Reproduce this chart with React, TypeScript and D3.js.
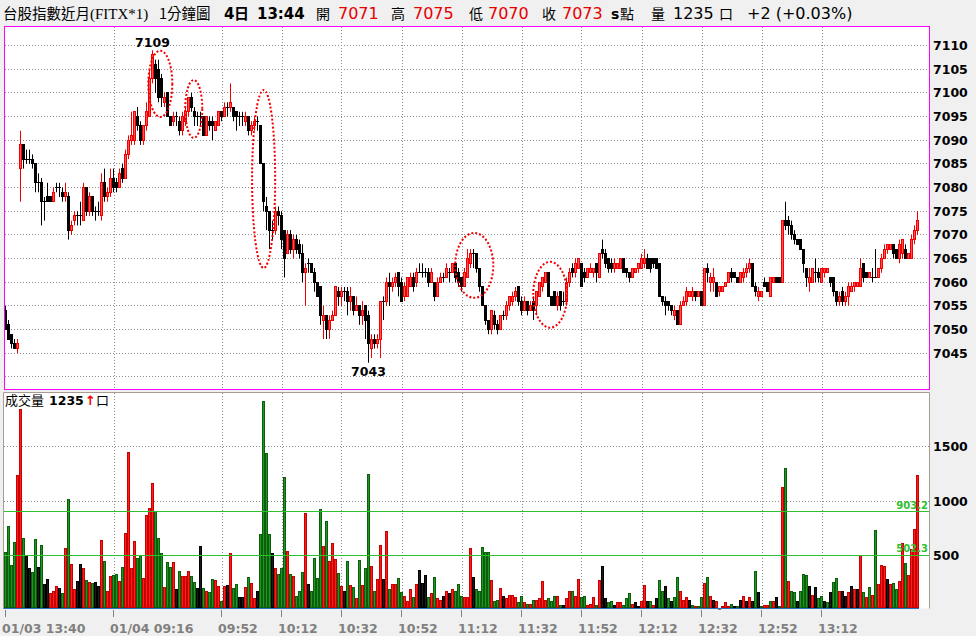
import React from "react";
import * as d3 from "d3";

// [open, high, low, close] per 1-minute bar
const candles: [number, number, number, number][] = [
[7054,7055,7050,7050],[7051,7052,7048,7048],[7049,7049,7046,7047],[7047,7048,7046,7046],[7046,7048,7045,7047],
[7084,7092,7077,7089],[7089,7089,7084,7086],[7086,7088,7085,7086],[7086,7088,7085,7086],[7086,7087,7084,7085],
[7085,7085,7079,7081],[7081,7083,7079,7081],[7081,7082,7072,7077],[7077,7078,7073,7077],[7078,7081,7077,7077],
[7078,7078,7077,7077],[7077,7080,7077,7079],[7080,7081,7079,7080],[7080,7081,7078,7080],[7079,7080,7077,7078],
[7078,7081,7077,7079],[7078,7079,7069,7071],[7071,7073,7070,7072],[7073,7075,7072,7074],[7074,7075,7072,7074],
[7074,7077,7072,7074],[7073,7081,7073,7080],[7080,7080,7074,7075],[7075,7079,7074,7078],[7078,7078,7074,7075],
[7075,7076,7073,7075],[7075,7077,7074,7075],[7074,7083,7073,7081],[7081,7084,7077,7078],[7078,7080,7077,7079],
[7079,7084,7078,7082],[7082,7084,7079,7080],[7081,7082,7079,7080],[7080,7084,7080,7083],[7084,7085,7081,7082],
[7082,7088,7082,7087],[7087,7091,7086,7090],[7090,7096,7089,7091],[7090,7096,7089,7096],[7095,7097,7092,7093],
[7093,7094,7089,7090],[7090,7093,7089,7093],[7093,7098,7092,7096],[7095,7105,7095,7103],[7103,7109,7102,7108],
[7106,7107,7100,7103],[7105,7107,7098,7099],[7103,7104,7097,7099],[7098,7100,7097,7099],[7100,7100,7095,7095],
[7095,7095,7093,7093],[7094,7096,7093,7095],[7095,7096,7093,7095],[7094,7095,7091,7092],[7092,7096,7091,7095],
[7094,7097,7093,7096],[7096,7099,7095,7099],[7099,7100,7096,7097],[7096,7097,7093,7095],[7095,7096,7093,7095],
[7095,7096,7093,7095],[7095,7095,7091,7091],[7091,7095,7091,7095],[7094,7095,7092,7093],[7094,7095,7090,7093],
[7092,7094,7092,7094],[7093,7096,7093,7096],[7096,7096,7094,7095],[7095,7098,7095,7097],[7097,7098,7095,7097],
[7097,7102,7096,7098],[7097,7097,7094,7095],[7096,7096,7092,7095],[7095,7096,7093,7095],[7095,7096,7093,7095],
[7094,7096,7093,7095],[7095,7095,7091,7092],[7092,7094,7091,7093],[7093,7095,7092,7094],[7094,7095,7092,7094],
[7093,7093,7085,7085],[7085,7085,7075,7077],[7076,7078,7071,7075],[7075,7075,7067,7071],[7071,7073,7069,7071],
[7071,7076,7070,7075],[7075,7076,7072,7074],[7074,7075,7067,7069],[7071,7071,7061,7065],[7066,7071,7066,7070],
[7070,7071,7066,7067],[7067,7070,7065,7069],[7069,7070,7066,7067],[7068,7069,7065,7066],[7066,7068,7060,7062],
[7062,7064,7055,7063],[7064,7065,7062,7064],[7064,7064,7062,7062],[7062,7063,7058,7060],[7060,7060,7057,7057],
[7059,7059,7051,7053],[7052,7055,7048,7053],[7053,7053,7048,7050],[7050,7053,7048,7052],[7052,7054,7052,7053],
[7053,7059,7053,7059],[7058,7059,7055,7057],[7057,7059,7055,7058],[7058,7059,7056,7058],[7058,7059,7053,7056],
[7056,7059,7054,7057],[7057,7057,7053,7054],[7054,7057,7054,7055],[7055,7055,7051,7053],[7053,7056,7051,7054],
[7055,7055,7048,7052],[7053,7054,7043,7047],[7046,7049,7044,7048],[7048,7049,7046,7047],[7047,7049,7046,7048],
[7048,7056,7044,7056],[7056,7057,7052,7056],[7056,7061,7055,7060],[7060,7062,7055,7059],[7059,7061,7058,7060],
[7060,7062,7059,7061],[7062,7062,7057,7059],[7060,7061,7056,7056],[7057,7060,7056,7059],[7057,7061,7057,7061],
[7059,7062,7059,7061],[7061,7062,7058,7059],[7060,7063,7059,7062],[7062,7064,7062,7062],[7062,7064,7061,7062],
[7062,7063,7061,7062],[7062,7063,7059,7060],[7060,7063,7060,7062],[7060,7060,7056,7057],[7057,7061,7057,7060],
[7060,7062,7060,7061],[7061,7062,7060,7061],[7061,7064,7061,7063],[7062,7063,7060,7062],[7062,7064,7062,7064],
[7064,7064,7060,7061],[7062,7063,7059,7060],[7061,7061,7058,7059],[7059,7063,7059,7062],[7061,7067,7061,7065],
[7064,7067,7063,7066],[7066,7067,7063,7066],[7066,7066,7062,7063],[7063,7063,7058,7059],[7059,7059,7055,7055],
[7055,7055,7051,7052],[7052,7052,7049,7050],[7050,7054,7049,7054],[7053,7054,7050,7051],[7051,7052,7049,7050],
[7050,7053,7050,7053],[7053,7054,7052,7053],[7053,7056,7052,7055],[7055,7057,7054,7057],[7056,7058,7055,7057],
[7057,7059,7056,7058],[7059,7059,7055,7056],[7056,7057,7053,7054],[7054,7057,7054,7056],[7056,7056,7053,7054],
[7054,7056,7054,7055],[7056,7057,7052,7054],[7055,7058,7053,7058],[7057,7060,7057,7060],[7059,7061,7058,7061],
[7060,7062,7060,7062],[7062,7062,7057,7057],[7057,7057,7055,7055],[7058,7058,7055,7055],[7055,7058,7054,7057],
[7058,7058,7054,7055],[7056,7058,7055,7056],[7056,7061,7055,7060],[7060,7063,7059,7062],[7063,7064,7061,7062],
[7062,7065,7061,7064],[7063,7065,7063,7065],[7064,7064,7059,7059],[7062,7063,7060,7061],[7061,7063,7061,7063],
[7062,7064,7062,7063],[7062,7063,7061,7063],[7064,7064,7060,7062],
[7061,7066,7061,7066],[7067,7069,7065,7066],[7066,7067,7063,7064],[7065,7065,7062,7063],[7064,7065,7062,7063],
[7063,7065,7062,7064],[7063,7064,7063,7064],[7063,7065,7063,7065],[7065,7065,7062,7062],[7063,7063,7061,7062],
[7062,7062,7060,7061],[7061,7063,7061,7063],[7062,7063,7062,7063],[7063,7064,7062,7064],[7063,7066,7063,7065],
[7064,7067,7063,7065],[7065,7066,7063,7063],[7065,7065,7062,7063],[7065,7065,7063,7064],[7065,7065,7063,7063],
[7064,7064,7057,7057],[7057,7057,7055,7056],[7056,7057,7053,7055],[7056,7056,7054,7055],[7055,7055,7053,7054],
[7053,7055,7052,7054],[7054,7054,7051,7051],[7051,7056,7051,7055],[7055,7057,7055,7056],[7056,7059,7055,7058],
[7057,7058,7057,7058],[7057,7059,7056,7058],[7058,7058,7056,7057],[7057,7058,7057,7058],[7058,7058,7055,7055],
[7055,7063,7055,7063],[7063,7064,7060,7062],[7060,7062,7058,7061],[7060,7063,7058,7061],[7060,7060,7057,7057],
[7058,7059,7057,7059],[7058,7059,7058,7059],[7059,7060,7059,7060],[7060,7062,7060,7062],[7062,7063,7060,7061],
[7062,7062,7061,7061],[7061,7061,7060,7060],[7060,7062,7060,7062],[7061,7063,7060,7062],[7062,7064,7061,7063],
[7063,7065,7062,7064],[7064,7064,7059,7059],[7059,7060,7057,7058],[7057,7059,7056,7058],[7057,7058,7057,7058],
[7060,7061,7059,7059],[7060,7060,7058,7058],[7057,7061,7057,7061],[7060,7061,7060,7061],[7061,7061,7060,7060],
[7061,7061,7060,7060],[7060,7073,7060,7073],[7073,7077,7071,7072],[7073,7074,7070,7072],[7072,7073,7069,7070],
[7070,7071,7068,7069],[7069,7069,7068,7068],[7069,7069,7067,7067],[7067,7067,7062,7064],[7063,7063,7059,7061],
[7060,7063,7058,7061],[7060,7063,7060,7063],[7062,7065,7060,7062],[7062,7063,7060,7061],[7060,7063,7060,7063],
[7062,7063,7061,7063],[7062,7063,7062,7063],[7061,7061,7059,7060],[7061,7061,7057,7058],[7058,7058,7055,7056],
[7056,7058,7055,7057],[7058,7059,7055,7056],[7056,7058,7055,7057],[7057,7060,7055,7059],[7058,7060,7058,7059],
[7059,7060,7058,7060],[7059,7060,7059,7060],[7059,7065,7059,7063],[7064,7064,7060,7061],[7062,7062,7061,7061],
[7061,7062,7061,7062],[7061,7063,7060,7061],[7061,7067,7061,7061],[7061,7063,7061,7063],[7063,7066,7062,7065],
[7065,7068,7065,7067],[7067,7068,7066,7068],[7067,7068,7067,7068],[7068,7068,7065,7066],[7067,7067,7065,7065],
[7065,7069,7064,7068],[7066,7069,7065,7069],[7067,7068,7065,7065],[7065,7066,7065,7066],[7065,7070,7065,7069],
[7069,7072,7068,7071],[7071,7075,7070,7073],
];

const volumes: number[] = [
523,763,403,616,1235,1842,653,496,376,339,
644,385,588,228,274,148,163,209,191,145,
560,1013,413,182,256,413,376,265,246,237,
246,209,634,440,163,302,317,323,256,385,
699,1448,376,625,468,496,283,865,930,1161,
902,653,514,200,431,385,431,182,348,302,
302,348,302,246,191,579,191,172,154,274,
265,209,71,209,219,514,191,228,108,108,
200,293,237,99,172,690,1919,1438,690,514,
376,320,376,1217,533,320,302,126,172,339,
884,228,172,468,283,921,579,810,440,607,
459,330,209,172,440,219,200,99,450,219,
376,1244,394,172,274,588,274,717,182,228,
228,283,154,117,71,182,108,228,357,237,
311,108,145,293,99,89,117,163,145,182,
172,228,
126,108,108,560,293,182,163,570,523,523,
265,71,89,191,117,99,135,135,108,62,
126,62,52,52,89,89,99,256,89,99,
80,117,126,43,43,99,163,172,126,274,
108,126,43,52,108,43,265,394,99,62,
80,43,62,62,43,99,145,52,62,25,
80,219,71,80,43,99,265,172,209,99,
71,108,293,163,89,108,89,43,34,34,
108,237,293,117,89,71,15,34,62,34,
52,25,34,89,126,80,108,71,348,154,
34,43,43,71,71,108,34,1124,1300,256,
163,154,80,172,320,311,209,135,200,99,
126,80,62,154,246,283,172,163,126,154,
209,182,182,496,154,108,200,135,727,228,
403,394,274,228,237,182,256,607,422,311,
551,736,1235,
];

// volume bar colour: r = up, g = down, k = unchanged
const volDir: string[] = (
  "ggggrrgkkg" + "gkgkkrrrkg" + "rgrrkkrgrg" + "kkrgrrggrg" + "rrrrggrrrr" +
  "gggrggrkgr" + "rrggkkgrgg" + "rrgrkrggkk" + "rgrrkggggk" + "rgggrgrggg" +
  "rkggggrgrr" + "rgrkgrgrgr" + "ggrgrrkrgr" + "rggrrrgrkk" + "kgrgrrkrkr" +
  "gg" +
  "grrrkggggg" + "rggrkrrrrg" + "grgrgrrrrg" + "ggrgkrrgrr" + "ggrrrgrkkg" +
  "gkrrgggrkk" + "rrkgrkggkg" + "kggrrrkgrg" + "grgrkrkrrr" + "gkgkrkrkgk" +
  "grrgrkgrgr" + "ggkgggkrkg" + "gkgkggrkkr" + "krkrgrgrgr" + "rrkrggrrgr" +
  "rrr"
).split("");

const tickIdx = [0, 36, 72, 92, 112, 132, 152, 172, 192, 212, 232, 252, 272];
const tickLabels = ["01/03 13:40", "01/04 09:16", "09:52", "10:12", "10:32", "10:52", "11:12", "11:32", "11:52", "12:12", "12:32", "12:52", "13:12"];
const priceGrid = [7040, 7045, 7050, 7055, 7060, 7065, 7070, 7075, 7080, 7085, 7090, 7095, 7100, 7105, 7110];
const priceLabels = [7045, 7050, 7055, 7060, 7065, 7070, 7075, 7080, 7085, 7090, 7095, 7100, 7105, 7110];
const volTicks = [500, 1000, 1500];
const volRefs = [903.2, 502.3];
const highMark = { idx: 49, price: 7109 };
const lowMark = { idx: 121, price: 7043 };
const annotations = [
  { i0: 47.6, i1: 55.6, pHi: 7108.9, pLo: 7094.9 },
  { i0: 59.9, i1: 65.6, pHi: 7102.7, pLo: 7090.5 },
  { i0: 82.2, i1: 89.9, pHi: 7100.6, pLo: 7063.0 },
  { i0: 149.9, i1: 162.6, pHi: 7070.4, pLo: 7056.7 },
  { i0: 175.9, i1: 187.2, pHi: 7064.3, pLo: 7050.4 },
];

const CJK = "'Noto Sans CJK TC', sans-serif";
const NUM = "'DejaVu Sans', Verdana, sans-serif";

const px = (v: number) => Math.round(v) + 0.5;

export default function App() {
  const n = Math.min(candles.length, volumes.length, volDir.length);
  const x = d3.scaleLinear().domain([0, 304]).range([5.5, 917.5]);
  const yP = d3.scaleLinear().domain([7040, 7110]).range([376.9, 45.5]);
  const yV = d3.scaleLinear().domain([0, 2000]).range([609.7, 392.4]);

  const volFill: Record<string, string> = { r: "#ff1c1c", g: "#1f961f", k: "#1a1a1a" };
  const volStroke: Record<string, string> = { r: "#c80000", g: "#0b5e0b", k: "#000000" };

  const header: { x: number; t: string; f: string; s: number; w?: number; c?: string }[] = [
    { x: 3, t: "台股指數近月", f: CJK, s: 14.5 },
    { x: 90, t: "(FITX*1)", f: "'Liberation Serif', serif", s: 15 },
    { x: 159, t: "1分鐘圖", f: CJK, s: 14.5 },
    { x: 224, t: "4", f: NUM, s: 15, w: 700 },
    { x: 234, t: "日", f: CJK, s: 15, w: 700 },
    { x: 257, t: "13:44", f: NUM, s: 15, w: 700 },
    { x: 316, t: "開", f: CJK, s: 14 },
    { x: 338, t: "7071", f: NUM, s: 16, c: "#e60000" },
    { x: 391, t: "高", f: CJK, s: 14 },
    { x: 413, t: "7075", f: NUM, s: 16, c: "#e60000" },
    { x: 469, t: "低", f: CJK, s: 14 },
    { x: 488, t: "7070", f: NUM, s: 16, c: "#e60000" },
    { x: 542, t: "收", f: CJK, s: 14 },
    { x: 562, t: "7073", f: NUM, s: 16, c: "#e60000" },
    { x: 611, t: "s", f: NUM, s: 14, w: 700 },
    { x: 620, t: "點", f: CJK, s: 14 },
    { x: 651, t: "量", f: CJK, s: 14 },
    { x: 673, t: "1235", f: NUM, s: 16 },
    { x: 719, t: "口", f: CJK, s: 14 },
    { x: 747, t: "+2 (+0.03%)", f: NUM, s: 16 },
  ];

  const gridXs = tickIdx.slice(1).map((i) => px(x(i)));

  return (
    <svg width={976} height={636} style={{ position: "absolute", left: 0, top: 0, display: "block" }}>
      <rect x={0} y={0} width={976} height={636} fill="#f0f0f0" />

      {/* header */}
      {header.map((h, k) => (
        <text key={k} x={h.x} y={19} fontFamily={h.f} fontSize={h.s} fontWeight={h.w ?? 400} fill={h.c ?? "#000"}>
          {h.t}
        </text>
      ))}

      {/* price panel */}
      <rect x={4.5} y={26.5} width={925} height={363} fill="#ffffff" />
      {priceGrid.map((p) => (
        <line key={p} x1={5} x2={929} y1={px(yP(p) - 0.5)} y2={px(yP(p) - 0.5)} stroke="#8c8c8c" strokeDasharray="1 2" />
      ))}
      {gridXs.map((gx, k) => (
        <line key={k} x1={gx} x2={gx} y1={27} y2={389} stroke="#8c8c8c" strokeDasharray="1 2" />
      ))}

      {/* candles */}
      {candles.slice(0, n).map(([o, h, l, c], i) => {
        const cx = x(i);
        const up = c > o;
        const down = c < o;
        const col = up ? "#f00000" : "#000000";
        const top = px(yP(Math.max(o, c)) - 0.5);
        const bot = px(yP(Math.min(o, c)) - 0.5);
        return (
          <g key={i}>
            <line x1={cx} x2={cx} y1={yP(h)} y2={yP(l)} stroke={col} strokeWidth={1} />
            {up || down ? (
              <rect x={cx - 1} y={top} width={2} height={Math.max(bot - top, 1)} fill={up ? "#ff5252" : "#000"} stroke={col} strokeWidth={1} />
            ) : (
              <line x1={cx - 1.5} x2={cx + 1.5} y1={top} y2={top} stroke="#000" strokeWidth={1} />
            )}
          </g>
        );
      })}

      {/* annotations */}
      {annotations.map((a, k) => {
        const x0 = x(a.i0), x1 = x(a.i1), y0 = yP(a.pHi), y1 = yP(a.pLo);
        return (
          <ellipse key={k} cx={(x0 + x1) / 2} cy={(y0 + y1) / 2} rx={(x1 - x0) / 2} ry={(y1 - y0) / 2}
            fill="none" stroke="#f00000" strokeWidth={2} strokeDasharray="2 2" />
        );
      })}
      <text x={x(highMark.idx)} y={yP(highMark.price) - 3} textAnchor="middle" fontFamily={NUM} fontWeight={700} fontSize={12.5} fill="#000">
        {highMark.price}
      </text>
      <text x={x(lowMark.idx)} y={yP(lowMark.price) + 13.5} textAnchor="middle" fontFamily={NUM} fontWeight={700} fontSize={12.5} fill="#000">
        {lowMark.price}
      </text>

      <rect x={4.5} y={26.5} width={925} height={363} fill="none" stroke="#ff00ff" strokeWidth={1} />

      {/* price axis labels */}
      {priceLabels.map((p) => (
        <text key={p} x={933} y={yP(p) + 4.5} fontFamily={NUM} fontWeight={700} fontSize={12.5} fill="#000">
          {p}
        </text>
      ))}

      {/* volume panel */}
      <rect x={3.5} y={392.5} width={926} height={216} fill="#ffffff" />
      {volTicks.map((v) => (
        <line key={v} x1={4} x2={929} y1={px(yV(v) - 0.5)} y2={px(yV(v) - 0.5)} stroke="#8c8c8c" strokeDasharray="1 2" />
      ))}
      {gridXs.map((gx, k) => (
        <line key={k} x1={gx} x2={gx} y1={393} y2={608} stroke="#8c8c8c" strokeDasharray="1 2" />
      ))}
      {volumes.slice(0, n).map((v, i) => {
        const cx = x(i);
        const d = volDir[i];
        const top = px(yV(v) - 0.5);
        return (
          <rect key={i} x={cx - 1} y={top} width={2} height={Math.max(607.5 - top, 0.5)}
            fill={volFill[d]} stroke={volStroke[d]} strokeWidth={1} />
        );
      })}
      {volRefs.map((v) => (
        <g key={v}>
          <line x1={4} x2={929} y1={px(yV(v) - 0.5)} y2={px(yV(v) - 0.5)} stroke="#2fbf2f" strokeWidth={1} />
          <text x={928} y={yV(v) - 3} textAnchor="end" fontFamily={NUM} fontWeight={700} fontSize={10} fill="#2fbf2f">
            {v.toFixed(1)}
          </text>
        </g>
      ))}
      <path d="M3.5,608.5 V392.5 H929.5 V608.5" fill="none" stroke="#a89c90" strokeWidth={1} />
      <line x1={3.5} x2={x(n - 1) + 1.5} y1={608.5} y2={608.5} stroke="#2a6fc0" strokeWidth={1.2} />

      <text x={5} y={405} fontFamily={CJK} fontSize={13} fill="#000">成交量</text>
      <text x={49} y={405} fontFamily={NUM} fontWeight={700} fontSize={12.5} fill="#000">{volumes[n - 1]}</text>
      <text x={85} y={405} fontFamily={NUM} fontWeight={700} fontSize={13} fill="#f00000">↑</text>
      <text x={96} y={405} fontFamily={CJK} fontSize={13} fill="#000">口</text>

      {volTicks.map((v) => (
        <text key={v} x={933} y={yV(v) + 4.5} fontFamily={NUM} fontWeight={700} fontSize={12.5} fill="#000">
          {v}
        </text>
      ))}

      {/* time axis */}
      {tickIdx.map((i, k) => (
        <g key={i}>
          <line x1={px(x(i) - 0.5)} x2={px(x(i) - 0.5)} y1={610} y2={617} stroke="#808080" />
          <text x={x(i) - 3.5} y={633} fontFamily={NUM} fontWeight={700} fontSize={12.5} fill="#808080">
            {tickLabels[k]}
          </text>
        </g>
      ))}
    </svg>
  );
}
